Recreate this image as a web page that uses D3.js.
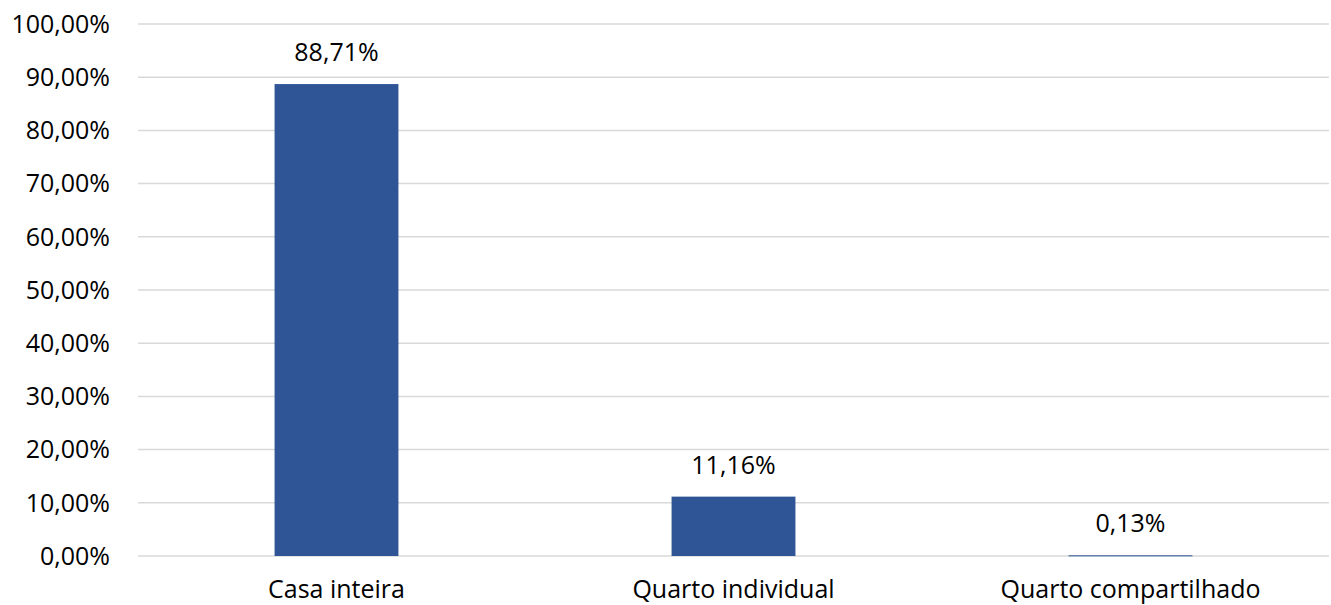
<!DOCTYPE html>
<html>
<head>
<meta charset="utf-8">
<script src="https://cdn.jsdelivr.net/npm/d3@7"></script>
<style>
  body { margin: 0; background: white; }
  text { font-family: "Open Sans", sans-serif; fill: #000; }
</style>
</head>
<body>
<div id="container"></div>
<script>
let w = 1331;
let h = 605;

// data
let categories = ["Casa inteira", "Quarto individual", "Quarto compartilhado"];
let values = [88.71, 11.16, 0.13];
let yTicks = [0, 10, 20, 30, 40, 50, 60, 70, 80, 90, 100];

let margin = {left: 138, right: 2, top: 24, bottom: 49};

let viz = d3.select("#container").append("svg")
  .attr("width", w)
  .attr("height", h)
  .style("display", "block");

let xScale = d3.scaleBand()
  .domain(categories)
  .range([margin.left, w - margin.right])
  .paddingInner(0.688)
  .paddingOuter(0.344);

let yScale = d3.scaleLinear()
  .domain([0, 100])
  .range([h - margin.bottom, margin.top]);

let fmt = function(v, digits) {
  return v.toFixed(digits).replace(".", ",") + "%";
};

// gridlines
viz.selectAll(".grid").data(yTicks).enter()
  .append("line")
  .attr("class", "grid")
  .attr("x1", margin.left)
  .attr("x2", w - margin.right)
  .attr("y1", d => yScale(d))
  .attr("y2", d => yScale(d))
  .attr("stroke", "#d9d9d9")
  .attr("stroke-width", 1.5);

// y labels
viz.selectAll(".ylabel").data(yTicks).enter()
  .append("text")
  .attr("class", "ylabel")
  .attr("x", 110)
  .attr("y", d => yScale(d))
  .attr("dy", "0.35em")
  .attr("text-anchor", "end")
  .style("font-size", "25px")
  .text(d => fmt(d, 2));

// bars
viz.selectAll(".bar").data(values).enter()
  .append("rect")
  .attr("class", "bar")
  .attr("x", (d, i) => xScale(categories[i]))
  .attr("width", xScale.bandwidth())
  .attr("y", d => yScale(d))
  .attr("height", d => Math.max(1, yScale(0) - yScale(d)))
  .attr("fill", "#2f5597");

// value labels
viz.selectAll(".vlabel").data(values).enter()
  .append("text")
  .attr("class", "vlabel")
  .attr("x", (d, i) => xScale(categories[i]) + xScale.bandwidth() / 2)
  .attr("y", d => yScale(d) - 23)
  .attr("text-anchor", "middle")
  .style("font-size", "25px")
  .text(d => fmt(d, 2));

// x labels
viz.selectAll(".xlabel").data(categories).enter()
  .append("text")
  .attr("class", "xlabel")
  .attr("x", d => xScale(d) + xScale.bandwidth() / 2)
  .attr("y", 598)
  .attr("text-anchor", "middle")
  .style("font-size", "25px")
  .text(d => d);
</script>
</body>
</html>
